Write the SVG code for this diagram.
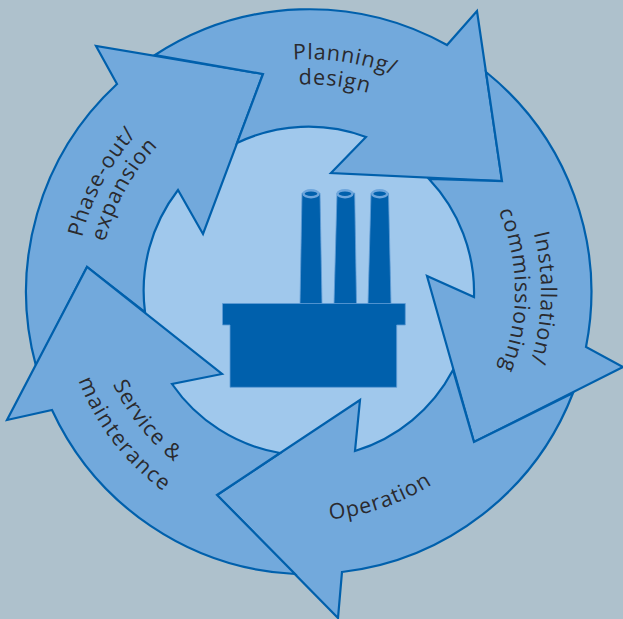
<svg xmlns="http://www.w3.org/2000/svg" width="623" height="619" viewBox="0 0 623 619">
<style>
.arrow{fill:#72a9dc;stroke:#0060ac;stroke-width:2.200;stroke-linejoin:miter;stroke-miterlimit:10}
.lbl{font-family:"Open Sans","Noto Sans",sans-serif;font-size:21.500px;fill:#2a2a2e;text-anchor:middle;letter-spacing:.9px}
.fo{fill:#0060ac;stroke:#5f9cd6;stroke-width:.8}
.rim{fill:#0060ac;stroke:#6ea6dc;stroke-width:2.400}
</style>
<defs>
<path id="p1" d="M75.800 255.900A236 236 0 0 1 542.200 328.100"/>
<path id="p2" d="M99.600 266.300A211 211 0 0 1 518.400 317.700"/>
<path id="p3" d="M315.200 57.100A235 235 0 0 1 302.800 526.900"/>
<path id="p4" d="M307.200 86A206 206 0 0 1 310.800 498"/>
<path id="p5" d="M198.700 499.500A235 235 0 0 1 419.300 84.500"/>
<path id="p6" d="M207.200 475.700A210 210 0 0 1 410.800 108.300"/>
<path id="p7" d="M172.700 120.600A219 219 0 0 0 445.300 463.400"/>
<path id="p8" d="M158.300 96.300A247 247 0 0 0 459.700 487.700"/>
<path id="p9" d="M90.600 367.200A231 231 0 0 0 527.400 216.800"/>
</defs>
<rect width="623" height="619" fill="#aec1cc"/>
<circle id="hub" cx="309" cy="292" r="166" fill="#a0c8ec"/>
<g id="connectors"></g>
<g id="node-phaseout">
<path class="arrow" d="M36 366A283 283 0 0 1 117 84L96 46L263 74L203 234L178 190A165 165 0 0 0 145 312L87 267Z"/>
<text class="lbl"><textPath href="#p5" startOffset="50%">Phase-out/</textPath></text>
<text class="lbl"><textPath href="#p6" startOffset="50%">expansion</textPath></text>
</g>
<g id="node-planning">
<path class="arrow" d="M155 55A283 283 0 0 1 447 45L477 11L502 181L331 173L366 137A165 165 0 0 0 237 143L263 74Z"/>
<text class="lbl"><textPath href="#p1" startOffset="50%">Planning/</textPath></text>
<text class="lbl"><textPath href="#p2" startOffset="50%">design</textPath></text>
</g>
<g id="node-install">
<path class="arrow" d="M486 72A283 283 0 0 1 586 347L623 367L474 442L427 276L474 297A165 165 0 0 0 429 179L502 181Z"/>
<text class="lbl"><textPath href="#p3" startOffset="50%">Installation/</textPath></text>
<text class="lbl"><textPath href="#p4" startOffset="50%">commissioning</textPath></text>
</g>
<g id="node-operation">
<path class="arrow" d="M573 393A283 283 0 0 1 342 572L338 618L217 495L360 400L355 451A165 165 0 0 0 453 370L474 442Z"/>
<text class="lbl"><textPath href="#p9" startOffset="50%">Operation</textPath></text>
</g>
<g id="node-service">
<path class="arrow" d="M295 574A283 283 0 0 1 52 410L7 420L87 267L222 374L172 384A165 165 0 0 0 280 453L217 495Z"/>
<text class="lbl"><textPath href="#p7" startOffset="50%">Service &amp;</textPath></text>
<text class="lbl" style="letter-spacing:1.500px"><textPath href="#p8" startOffset="50%">mainterance</textPath></text>
</g>
<g id="node-factory">
<path class="fo" d="M302 193H320L322 304H300Z"/>
<path class="fo" d="M337 193H354.700L356.500 304H334Z"/>
<path class="fo" d="M371 193H388.500L391 304H368Z"/>
<ellipse class="rim" cx="311" cy="193.700" rx="7.500" ry="3.500"/>
<ellipse class="rim" cx="345" cy="193.700" rx="7.500" ry="3.500"/>
<ellipse class="rim" cx="379.700" cy="193.700" rx="7.500" ry="3.500"/>
<path class="fo" d="M222.500 303.500H405.300V325H396.700V387.300H230V325H222.500Z"/>
</g>
</svg>
